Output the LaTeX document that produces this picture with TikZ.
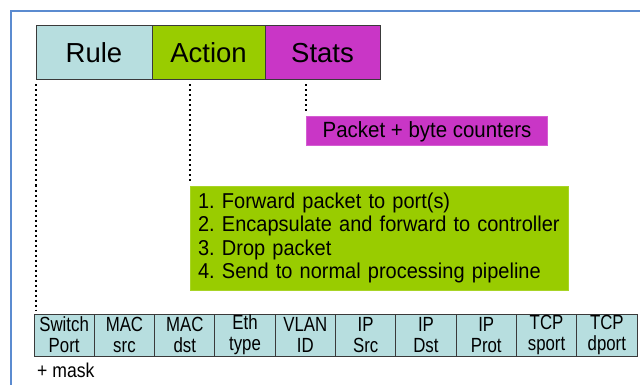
\documentclass[tikz,border=0pt]{standalone}
\usepackage{fontspec}
\setmainfont{Liberation Sans}
\newfontfamily\listfont{Liberation Sans}[FakeStretch=0.93]
\newfontfamily\cellfont{Liberation Sans}[FakeStretch=0.82]
\newfontfamily\maskfont{Liberation Sans}[FakeStretch=0.88]
\usetikzlibrary{calc}
\definecolor{rulecol}{HTML}{B7DEDF}
\definecolor{actcol}{HTML}{99CC00}
\definecolor{statcol}{HTML}{C936C6}
\definecolor{framecol}{HTML}{5B8BD0}
\definecolor{edgecol}{HTML}{3A3A3A}
\newcommand{\itm}[2]{\mbox{\makebox[24pt][l]{#1}#2}}
\begin{document}
\begin{tikzpicture}[x=1pt,y=-1pt,
  hdr/.style={draw=edgecol, line width=1pt, minimum height=54pt, inner sep=0pt,
    font=\fontsize{27.5}{32}\selectfont},
  dots/.style={line width=2pt, dash pattern=on 2pt off 3pt, black},
  cell/.style={draw=edgecol, line width=1pt, fill=rulecol, minimum width=60.3pt,
    minimum height=42pt, inner sep=0pt, align=center,
    font=\cellfont\fontsize{20.5}{21}\selectfont},
  listbox/.style={fill=actcol, draw=actcol!85!white, line width=1pt,
    minimum width=378pt, minimum height=104pt, inner xsep=8pt, inner ysep=0pt,
    text width=362pt, align=left,
    font=\listfont\fontsize{21.5}{23.3}\selectfont}
]
\useasboundingbox (0,0) rectangle (640,385);
\fill[white] (0,0) rectangle (640,385);
\draw[framecol, line width=2pt] (11,385) -- (11,11) -- (640,11);

\node[hdr, fill=rulecol, minimum width=116pt] (rule) at (94,53) {Rule};
\node[hdr, fill=actcol, minimum width=113pt] (action) at (208.5,53) {Action};
\node[hdr, fill=statcol, minimum width=115pt] (stats) at (322.5,53) {Stats};

\node[fill=statcol, draw=statcol!80!white, line width=1pt, minimum width=241pt,
  minimum height=29pt, inner sep=0pt, font=\listfont\fontsize{22}{24}\selectfont]
  (counters) at (427,131.5) {Packet + byte counters};

\node[listbox] (actions) at (379,238)
  {\itm{1.}{Forward packet to port(s)}\\
   \itm{2.}{Encapsulate and forward to controller}\\
   \itm{3.}{Drop packet}\\
   \itm{4.}{Send to normal processing pipeline}};

\foreach \t [count=\i] in {{Switch\\Port},{MAC\\src},{MAC\\dst},{Eth\\type},{VLAN\\ID},{IP\\Src},{IP\\Dst},{IP\\Prot},{TCP\\sport},{TCP\\dport}}
  \node[cell] (c\i) at ({34+60.3*(\i-0.5)},335) {\t};

\node[anchor=west, inner sep=0pt, font=\maskfont\fontsize{20}{21}\selectfont] (mask) at (37,370) {+ mask};

\draw[dots] ([yshift=-4pt]rule.south west) -- ([yshift=3pt]rule.south west |- c1.north);
\draw[dots] ([yshift=-4pt]action.south -| actions.west) -- ([yshift=3pt]actions.north west);
\draw[dots] ([yshift=-4pt]stats.south -| counters.west) -- ([yshift=3pt]counters.north west);
\end{tikzpicture}
\end{document}
